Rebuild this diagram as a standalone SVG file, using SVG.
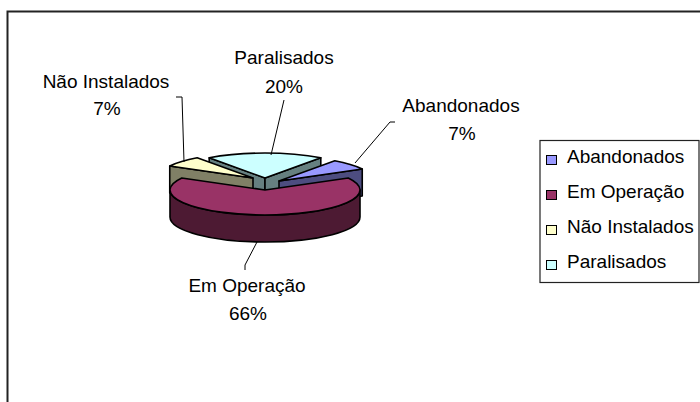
<svg xmlns="http://www.w3.org/2000/svg" width="700" height="402" viewBox="0 0 700 402">
<style>
text{font-family:"Liberation Sans",Arial,sans-serif;font-size:19px;fill:#000}
.lbl{text-anchor:middle}
.edge{stroke:#000;stroke-width:1.6;stroke-linejoin:round}
.lead{fill:none;stroke:#000;stroke-width:1}
</style>
<rect x="0" y="0" width="700" height="402" fill="#fff"/>
<rect id="frame" x="7.5" y="11.5" width="720" height="420" fill="none" stroke="#222" stroke-width="2"/>
<g id="slice-paralisados">
<path class="edge" fill="#668080" d="M265,178 L209.2,157.8 L209.2,184.8 L265,205 Z"/>
<path class="edge" fill="#668080" d="M265,178 L320.8,157.8 L320.8,184.8 L265,205 Z"/>
<path class="edge" fill="#CCFFFF" d="M265,178 L209.2,157.8 A95 25 0 0 1 320.8,157.8 Z"/>
</g>
<g id="slice-nao-instalados">
<path class="edge" fill="#808066" d="M253,178 L169.75,165.95 L169.75,192.95 L253,205 Z"/>
<path class="edge" fill="#FFFFCC" d="M253,178 L169.75,165.95 A95 25 0 0 1 197.16,157.77 Z"/>
</g>
<g id="slice-abandonados">
<path class="edge" fill="#4D4D80" d="M279,181 L362.25,168.95 L362.25,195.95 L279,208 Z"/>
<path class="edge" fill="#9999FF" d="M279,181 L334.8,160.8 A95 25 0 0 1 362.25,168.95 Z"/>
</g>
<g id="slice-em-operacao">
<path class="edge" fill="#4D1A33" d="M360,190 A95 25 0 0 1 170,190 L170,217 A95 25 0 0 0 360,217 Z"/>
<path class="edge" fill="#993366" d="M265,190 L348.25,177.95 A95 25 0 1 1 181.75,177.95 Z"/>
</g>
<g id="connectors">
<polyline class="lead" points="284,100 271,155"/>
<polyline class="lead" points="176,97 182,97 184,162"/>
<polyline class="lead" points="395,122 390,122 355,163"/>
<polyline class="lead" points="257,242 245,265 245,270"/>
</g>
<g id="label-paralisados">
<text class="lbl" x="284" y="64">Paralisados</text>
<text class="lbl" x="284" y="93">20%</text>
</g>
<g id="label-nao-instalados">
<text class="lbl" x="106" y="88">Não Instalados</text>
<text class="lbl" x="107" y="115">7%</text>
</g>
<g id="label-abandonados">
<text class="lbl" x="461" y="112">Abandonados</text>
<text class="lbl" x="462" y="140">7%</text>
</g>
<g id="label-em-operacao">
<text class="lbl" x="247" y="292">Em Operação</text>
<text class="lbl" x="248" y="320">66%</text>
</g>
<g id="legend">
<rect x="540" y="140.5" width="159" height="142" fill="#fff" stroke="#222" stroke-width="1.2"/>
<rect x="546.5" y="155.5" width="10" height="9" fill="#9999FF" stroke="#000"/>
<text x="567" y="163">Abandonados</text>
<rect x="546.5" y="190.5" width="10" height="9" fill="#993366" stroke="#000"/>
<text x="567" y="198">Em Operação</text>
<rect x="546.5" y="225.5" width="10" height="9" fill="#FFFFCC" stroke="#000"/>
<text x="567" y="233">Não Instalados</text>
<rect x="546.5" y="260.5" width="10" height="9" fill="#CCFFFF" stroke="#000"/>
<text x="567" y="268">Paralisados</text>
</g>
</svg>
